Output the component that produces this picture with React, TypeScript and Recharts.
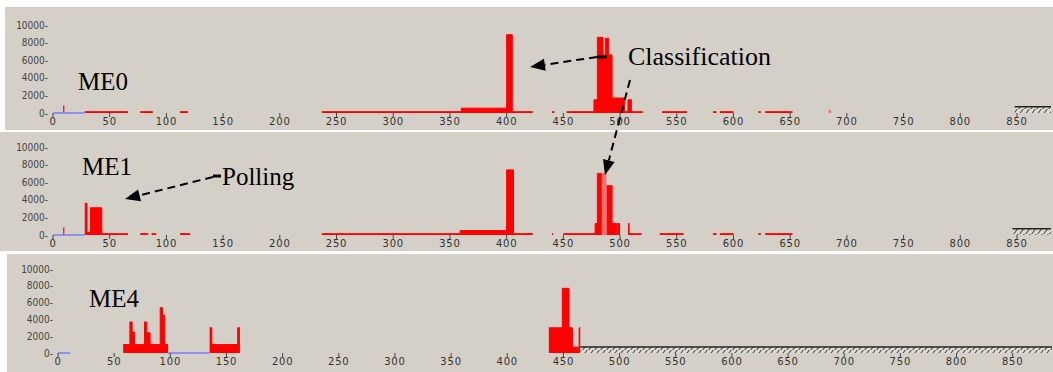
import React from 'react';
import { ComposedChart, Area, Line, XAxis, YAxis } from 'recharts';

// [start, end, value] runs
type Seg = [number, number, number];

const xTicks = [0, 50, 100, 150, 200, 250, 300, 350, 400, 450, 500, 550, 600, 650, 700, 750, 800, 850];
const yTicks = [0, 2000, 4000, 6000, 8000, 10000];

const me0Busy: Seg[] = [
  [9, 10, 800], [28, 66, 150], [77, 88, 150], [112, 119, 150],
  [237, 360, 150], [360, 400, 550], [400, 405, 8900], [405, 423, 150],
  [440, 442, 150], [453, 477, 150], [477, 480, 1500], [480, 485, 8600],
  [485, 487, 6600], [487, 490, 8500], [490, 493, 6600], [493, 504, 1700],
  [504, 507, 150], [507, 510, 1500], [510, 520, 150], [537, 559, 150],
  [582, 585, 150], [588, 600, 150], [622, 624, 150], [628, 652, 150],
];
const me0Pale: Seg[] = [[684, 686, 300]];
const me0Idle: Seg[] = [[848, 880, 700]];
const me0Wait: Seg[] = [[0, 28, 0]];

const me1Busy: Seg[] = [
  [9, 10, 800], [28, 30, 3600], [30, 33, 300], [33, 43, 3100], [43, 66, 150],
  [77, 84, 150], [87, 91, 150], [112, 121, 150], [237, 359, 150],
  [359, 400, 500], [400, 406, 7400], [406, 423, 150], [440, 441, 150],
  [450, 478, 150], [478, 480, 1300], [480, 484, 7000],
];
const me1Busy2: Seg[] = [
  [488, 493, 5600], [493, 497, 1300], [497, 498, 150], [498, 500, 1300],
  [507, 508, 1300], [508, 519, 150], [535, 556, 150],
  [582, 585, 150], [588, 600, 150], [622, 624, 150], [628, 652, 150],
];
const me1Pale: Seg[] = [[484, 488, 7000]];
const me1Idle: Seg[] = [[846, 880, 700]];
const me1Wait: Seg[] = [[0, 28, 0]];

const me4Busy: Seg[] = [
  [58, 64, 1000], [64, 66, 3700], [66, 68, 2500], [68, 77, 1000],
  [77, 79, 3700], [79, 82, 2400], [82, 91, 1000], [91, 93, 5400],
  [93, 95, 4500], [95, 98, 1000], [135, 137, 3000], [137, 160, 1000],
  [160, 162, 3000], [437, 449, 3000], [449, 455, 7700], [455, 458, 3000],
  [458, 464, 700], [464, 465, 3000],
];
const me4Pale: Seg[] = [];
const me4Idle: Seg[] = [[465, 885, 700]];
const me4Wait: Seg[] = [[0, 11, 0], [98, 135, 0]];

type Pt = { x: number; v: number | null };

function toSteps(segs: Seg[]): Pt[] {
  const out: Pt[] = [];
  segs.forEach(([a, b, v], i) => {
    if (i > 0 && segs[i - 1][1] < a) out.push({ x: (segs[i - 1][1] + a) / 2, v: null });
    out.push({ x: a, v }, { x: b, v });
  });
  return out;
}

const BG = '#d4d0c8';
const RED = '#ff0000';
const BLUE = '#7b7bff';

type PanelProps = {
  id: string;
  left: number; top: number; width: number; height: number;
  yWidth: number; mTop: number; mRight: number; xHeight: number;
  xMax: number;
  busy: Seg[][]; pale: Seg[]; idle: Seg[]; wait: Seg[];
};

function Panel(p: PanelProps) {
  const hatch = `hatch-${p.id}`;
  return (
    <div style={{ position: 'absolute', left: p.left, top: p.top, width: p.width, height: p.height, background: BG }}>
      <ComposedChart
        width={p.width}
        height={p.height}
        data={toSteps(p.busy[0])}
        margin={{ top: p.mTop, right: p.mRight, bottom: 2, left: 0 }}
      >
        <defs>
          <pattern id={hatch} width="6" height="6" patternUnits="userSpaceOnUse">
            <rect width="6" height="6" fill="#dedad4" />
            <path d="M-1,7 L5,-1 M5,7 L11,-1" stroke="#555" strokeWidth="1.1" />
          </pattern>
        </defs>
        <XAxis
          type="number"
          dataKey="x"
          domain={[0, p.xMax]}
          ticks={xTicks}
          allowDataOverflow
          height={p.xHeight}
          axisLine={false}
          tickSize={4}
          tickMargin={1}
          stroke="#444"
          tick={{ fontSize: 10, fill: '#333', fontFamily: 'DejaVu Sans', letterSpacing: 0.8 }}
        />
        <YAxis
          type="number"
          domain={[0, 10000]}
          ticks={yTicks}
          width={p.yWidth}
          axisLine={false}
          tickLine={false}
          tickSize={0}
          tickMargin={5}
          tickFormatter={(v: number) => `${v}-`}
          tick={{ fontSize: 10, fill: '#444', fontFamily: 'DejaVu Sans Condensed' }}
        />
        {p.busy.map((s, i) => (
          <Area
            key={`b${i}`}
            data={toSteps(s)}
            dataKey="v"
            type="stepAfter"
            fill={RED}
            fillOpacity={1}
            stroke={RED}
            strokeWidth={1}
            isAnimationActive={false}
            dot={false}
            activeDot={false}
          />
        ))}
        {p.pale.length > 0 && (
          <Area
            data={toSteps(p.pale)}
            dataKey="v"
            type="stepAfter"
            fill="#f07070"
            fillOpacity={1}
            stroke="#f07070"
            isAnimationActive={false}
            dot={false}
            activeDot={false}
          />
        )}
        <Area
          data={toSteps(p.idle)}
          dataKey="v"
          type="stepAfter"
          fill={`url(#${hatch})`}
          fillOpacity={1}
          stroke="#222"
          strokeWidth={1.5}
          isAnimationActive={false}
          dot={false}
          activeDot={false}
        />
        <Line
          data={toSteps(p.wait)}
          dataKey="v"
          type="linear"
          stroke={BLUE}
          strokeWidth={1.5}
          dot={false}
          activeDot={false}
          isAnimationActive={false}
        />
      </ComposedChart>
    </div>
  );
}

function head(x1: number, y1: number, x2: number, y2: number, len = 15, half = 6) {
  const d = Math.hypot(x2 - x1, y2 - y1);
  const ux = (x2 - x1) / d;
  const uy = (y2 - y1) / d;
  const bx = x2 - ux * len;
  const by = y2 - uy * len;
  return {
    base: [bx, by],
    pts: `${x2},${y2} ${bx - uy * half},${by + ux * half} ${bx + uy * half},${by - ux * half}`,
  };
}

function Arrow({ x1, y1, x2, y2 }: { x1: number; y1: number; x2: number; y2: number }) {
  const h = head(x1, y1, x2, y2);
  return (
    <g>
      <line x1={x1} y1={y1} x2={h.base[0]} y2={h.base[1]} stroke="#000" strokeWidth={2} strokeDasharray="8 5" />
      <polygon points={h.pts} fill="#000" />
    </g>
  );
}

const serif = { fontFamily: '"Liberation Serif", "Times New Roman", serif', fill: '#000' };

export default function App() {
  return (
    <div style={{ position: 'relative', width: 1053, height: 372, background: '#fff', overflow: 'hidden' }}>
      <style>{'body{margin:0}'}</style>
      <Panel id="me0" left={5} top={7} width={1048} height={123} yWidth={48} mTop={18} mRight={2} xHeight={15}
        xMax={880} busy={[me0Busy]} pale={me0Pale} idle={me0Idle} wait={me0Wait} />
      <Panel id="me1" left={0} top={132} width={1053} height={119} yWidth={53} mTop={15} mRight={2} xHeight={14}
        xMax={880} busy={[me1Busy, me1Busy2]} pale={me1Pale} idle={me1Idle} wait={me1Wait} />
      <Panel id="me4" left={7} top={254} width={1046} height={118} yWidth={51} mTop={15} mRight={1} xHeight={17}
        xMax={885} busy={[me4Busy]} pale={me4Pale} idle={me4Idle} wait={me4Wait} />
      <svg width={1053} height={372} style={{ position: 'absolute', left: 0, top: 0, pointerEvents: 'none' }}>
        <text x={78} y={90} fontSize={25} {...serif}>ME0</text>
        <text x={82} y={175} fontSize={25} {...serif}>ME1</text>
        <text x={89} y={307} fontSize={25} {...serif}>ME4</text>
        <text x={628} y={65} fontSize={26} {...serif}>Classification</text>
        <text x={222} y={185} fontSize={25} {...serif}>Polling</text>
        <line x1={597} y1={57} x2={607} y2={57} stroke="#000" strokeWidth={3} />
        <Arrow x1={597} y1={57} x2={530} y2={67} />
        <Arrow x1={630} y1={80} x2={605} y2={175} />
        <line x1={213} y1={176} x2={221} y2={176} stroke="#000" strokeWidth={3} />
        <Arrow x1={213} y1={177} x2={125} y2={199} />
      </svg>
    </div>
  );
}
